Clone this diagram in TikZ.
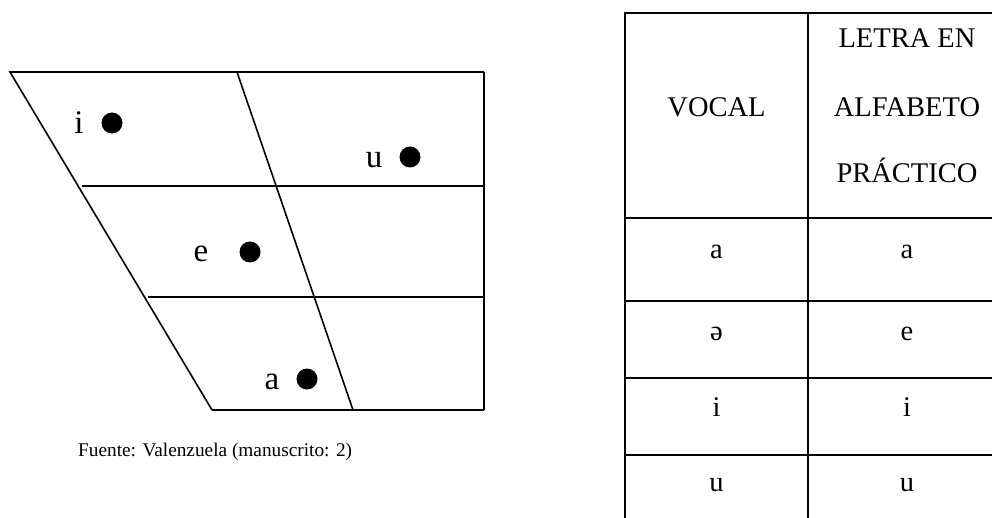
\documentclass[tikz,border=0pt]{standalone}
\usepackage{fontspec}
\setmainfont{Liberation Serif}
\begin{document}
\begin{tikzpicture}[x=1pt,y=-1pt,
  chart/.style={line width=1.6pt},
  rightside/.style={line width=2.3pt},
  grid/.style={line width=1.8pt},
  vowel/.style={font=\fontsize{33}{33}\selectfont, anchor=base, inner sep=0pt},
  cell/.style={font=\fontsize{28.5}{28.5}\selectfont, anchor=base, inner sep=0pt},
  dot/.style={fill=black, circle, minimum size=21pt, inner sep=0pt}]
\useasboundingbox (0,0) rectangle (992,518);
% vowel chart
\coordinate (TL) at (10,72);
\coordinate (TR) at (484,72);
\coordinate (BR) at (484,410);
\coordinate (BL) at (212,410);
\coordinate (MT) at (237,72);
\coordinate (MB) at (353,410);
\draw[chart] (BL) -- (TL) -- (TR);
\draw[rightside] (TR) -- (BR);
\draw[chart] (BR) -- (BL);
\draw[chart] (MT) -- (MB);
\coordinate (H1L) at (82,186);
\coordinate (H1R) at (484,186);
\coordinate (H2L) at (148,297);
\coordinate (H2R) at (484,297);
\draw[chart] (H1L) -- (H1R);
\draw[chart] (H2L) -- (H2R);
\node[vowel] (li) at (79,134) {i};
\node[dot] (di) at (112,123) {};
\node[vowel] (lu) at (374,168) {u};
\node[dot] (du) at (410,157) {};
\node[vowel] (le) at (201,262) {e};
\node[dot] (de) at (250,252) {};
\node[vowel] (la) at (272,389) {a};
\node[dot] (da) at (307,379) {};
\node[font=\fontsize{19.3}{19.3}\selectfont, anchor=base west, inner sep=0pt] (cap) at (78,456) {Fuente: Valenzuela (manuscrito: 2)};
% table
\coordinate (T0) at (625,13);
\coordinate (T1) at (992,13);
\draw[grid] (T1) -- (T0) -- (625,518);
\draw[grid] (808,13) -- (808,518);
\foreach \yy in {218,301,378,455}{
  \draw[grid] (625,\yy) -- (992,\yy);
}
\node[cell] (vocal) at (716.5,117) {VOCAL};
\node[cell] (h1) at (907,48) {LETRA EN};
\node[cell] (h2) at (907,117) {ALFABETO};
\node[cell] (h3) at (907,183) {PRÁCTICO};
\node[cell] (a1) at (716.5,259) {a};
\node[cell] (a2) at (907,259) {a};
\node[cell] (b1) at (716.5,340) {ə};
\node[cell] (b2) at (907,340) {e};
\node[cell] (c1) at (716.5,416) {i};
\node[cell] (c2) at (907,416) {i};
\node[cell] (d1) at (716.5,491) {u};
\node[cell] (d2) at (907,491) {u};
\end{tikzpicture}
\end{document}
